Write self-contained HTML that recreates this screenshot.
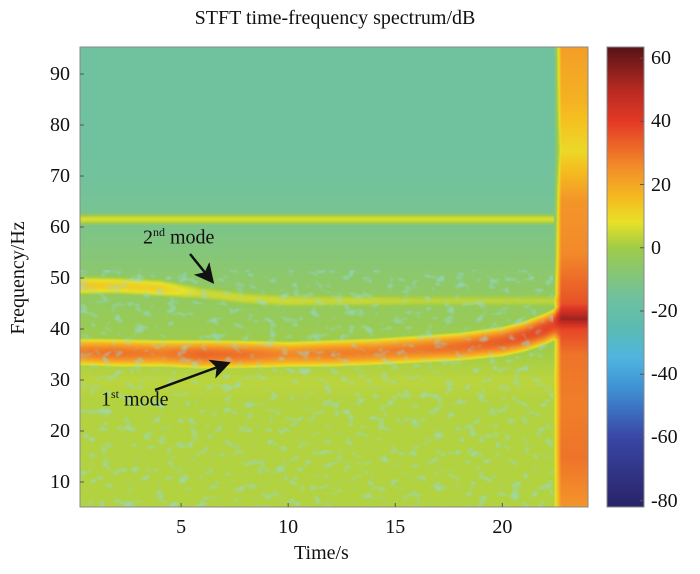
<!DOCTYPE html>
<html><head><meta charset="utf-8"><style>
body{margin:0;background:#fff;width:700px;height:574px;overflow:hidden;position:relative;font-family:"Liberation Serif",serif;}
.t{position:absolute;color:#111;font-size:20px;line-height:1;white-space:nowrap;}
</style></head><body>
<div class="t" style="left:170px;top:8px;font-size:20px;width:330px;text-align:center;">STFT time-frequency spectrum/dB</div>
<canvas id="hm" width="508" height="460" style="position:absolute;left:80px;top:47px;"></canvas>
<canvas id="cb" width="37" height="460" style="position:absolute;left:607px;top:47px;"></canvas>
<svg id="ov" width="700" height="574" style="position:absolute;left:0;top:0;">
<defs><marker id="ah" markerWidth="8" markerHeight="8" refX="6" refY="4" orient="auto"><path d="M0,0 L8,4 L0,8 L2,4 Z" fill="#111"/></marker>
<filter id="spk" x="0" y="0" width="100%" height="100%"><feTurbulence type="fractalNoise" baseFrequency="0.09 0.12" numOctaves="2" seed="3"/><feColorMatrix type="matrix" values="0 0 0 0 0.3  0 0 0 0 0.7  0 0 0 0 0.75  0 0 0 4 -2.2"/></filter></defs>
<rect x="80" y="270" width="473" height="237" filter="url(#spk)" opacity="0.55"/>
<rect x="80" y="47" width="508" height="460" fill="none" stroke="#888" stroke-width="1"/>
<rect x="607" y="47" width="37" height="460" fill="none" stroke="#888" stroke-width="1"/>
<line x1="190" y1="254" x2="211" y2="280" stroke="#111" stroke-width="2.5" marker-end="url(#ah)"/>
<line x1="155" y1="390" x2="226" y2="364" stroke="#111" stroke-width="2.5" marker-end="url(#ah)"/>
</svg>
<div class="t" style="left:143px;top:226px;font-size:20px;">2<sup style="font-size:12px">nd</sup> mode</div>
<div class="t" style="left:101px;top:388px;font-size:20px;">1<sup style="font-size:12px">st</sup> mode</div>
<div class="t" style="left:294px;top:543px;font-size:20px;">Time/s</div>
<div class="t" style="left:-42px;top:268px;font-size:20px;transform:rotate(-90deg);width:120px;text-align:center;">Frequency/Hz</div>
<div id="labels"></div>
<script>
const xTicks=[5,10,15,20];
const yTicks=[10,20,30,40,50,60,70,80,90];
const cTicks=[60,40,20,0,-20,-40,-60,-80];
const bgFreq=[5,15,25,30,40,50,55,65,75,95];
const bgLevel=[2,2,2,3,-2,-6,-9,-14,-16,-16];
const modeTimes=[0,2,4,6,8,10,12,14,16,18,20,21,22,22.5];
const mode1Freq=[35.5,35.3,35.2,35,35,35,35.2,35.5,36,36.5,37.5,38.5,40,41];
const mode1Level=[28,30,28,32,30,26,28,28,29,31,34,36,38,38];
const mode2Freq=[48.5,48.5,48,47,46,45.5,45.5,45.5,45.5,45.5,45.5,45.5,45.5,45.5];
const mode2Level=[14,12,12,5,5,5,4,4,3,3,3,3,3,3];
const line61Freq=61.5, line61Level=6;
const burstStart=22.4;
const burstFreq=[5,15,25,35,40,42,45,55,65,75,85,95];
const burstLevel=[24,30,28,30,38,54,36,26,24,10,18,22];
const cStops=[-82,-60,-45,-35,-25,-15,0,8,15,25,40,50,63];
const cCols=["#2a2468","#3a47a6","#3f8fd4","#4fb6e0","#5cbcb2","#72c29c","#a0cc48","#e8e22a","#f5c020","#f3902a","#e43a26","#b82a22","#5b1518"];
const X0=80,X1=588,Y0=47,Y1=507,tMin=0.28,tMax=24.0,fMin=5.1,fMax=95.3,dMin=-82,dMax=63.5;
const xs=t=>X0+(t-tMin)/(tMax-tMin)*(X1-X0);
const ys=f=>Y1-(f-fMin)/(fMax-fMin)*(Y1-Y0);
const xinv=px=>tMin+(px-X0)/(X1-X0)*(tMax-tMin);
const yinv=py=>fMin+(Y1-py)/(Y1-Y0)*(fMax-fMin);
const cy=d=>Y1-(d-dMin)/(dMax-dMin)*(Y1-Y0);
function interp(xa,ya,x){if(x<=xa[0])return ya[0];for(let i=1;i<xa.length;i++){if(x<=xa[i]){const r=(x-xa[i-1])/(xa[i]-xa[i-1]);return ya[i-1]+r*(ya[i]-ya[i-1]);}}return ya[ya.length-1];}
function hex(h){return [parseInt(h.substr(1,2),16),parseInt(h.substr(3,2),16),parseInt(h.substr(5,2),16)];}
const rgbs=cCols.map(hex);
function cmap(d){const r=interp(cStops,rgbs.map(c=>c[0]),d),g=interp(cStops,rgbs.map(c=>c[1]),d),b=interp(cStops,rgbs.map(c=>c[2]),d);return [r,g,b];}
function val(t,f){
 let v=interp(bgFreq,bgLevel,f);
 const m1=interp(modeTimes,mode1Freq,t),l1=interp(modeTimes,mode1Level,t);
 v=Math.max(v,l1-25*Math.pow((f-m1)/2.6,2));
 const m2=interp(modeTimes,mode2Freq,t),l2=interp(modeTimes,mode2Level,t);
 v=Math.max(v,l2-15*Math.pow((f-m2)/1.8,2));
 if(t<burstStart) v=Math.max(v,line61Level-15*Math.pow((f-line61Freq)/1.1,2));
 if(t>=burstStart){const bl=interp(burstFreq,burstLevel,f);const edge=Math.min(1,(t-burstStart)/0.35);v=Math.max(v,bl*edge+v*(1-edge));}
 return v;
}
const hm=document.getElementById('hm'),ctx=hm.getContext('2d');
const img=ctx.createImageData(hm.width,hm.height);
for(let py=0;py<hm.height;py++){const f=yinv(Y0+py+0.5);for(let px=0;px<hm.width;px++){const t=xinv(X0+px+0.5);const c=cmap(val(t,f));const k=(py*hm.width+px)*4;img.data[k]=c[0];img.data[k+1]=c[1];img.data[k+2]=c[2];img.data[k+3]=255;}}
ctx.putImageData(img,0,0);
const cb=document.getElementById('cb'),cc=cb.getContext('2d');
for(let py=0;py<cb.height;py++){const d=dMin+(Y1-(Y0+py+0.5))/(Y1-Y0)*(dMax-dMin);const c=cmap(d);cc.fillStyle=`rgb(${c[0]|0},${c[1]|0},${c[2]|0})`;cc.fillRect(0,py,cb.width,1);}
const L=document.getElementById('labels'),ov=document.getElementById('ov'),NS='http://www.w3.org/2000/svg';
function lab(txt,x,y,al,name){const d=document.createElement('div');d.className='t';d.textContent=txt;d.style.left=x+'px';d.style.top=y+'px';


if(al==='c'){d.style.transform='translateX(-50%)';}if(al==='r'){d.style.transform='translateX(-100%)';}L.appendChild(d);}
function tick(x1,y1,x2,y2){const l=document.createElementNS(NS,'line');l.setAttribute('x1',x1);l.setAttribute('y1',y1);l.setAttribute('x2',x2);l.setAttribute('y2',y2);l.setAttribute('stroke','#555');


ov.appendChild(l);}
xTicks.forEach(v=>{lab(String(v),xs(v),517,'c','x-tick-label');tick(xs(v),Y1,xs(v),Y1-4);});
yTicks.forEach(v=>{lab(String(v),70,ys(v)-10,'r','y-tick-label');tick(X0,ys(v),X0+4,ys(v));});
cTicks.forEach(v=>{lab(String(v),651,cy(v)-10,'l','colorbar-tick-label');tick(644,cy(v),640,cy(v));});
</script>
</body></html>
